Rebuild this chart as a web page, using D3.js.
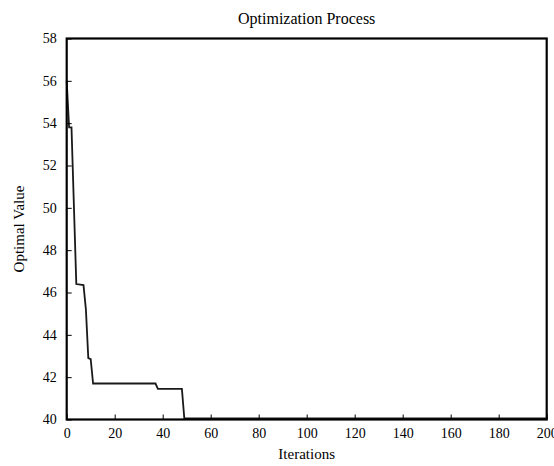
<!DOCTYPE html>
<html>
<head>
<meta charset="utf-8">
<script src="https://cdn.jsdelivr.net/npm/d3@7"></script>
<style>
  html, body { margin: 0; padding: 0; background: #fff; }
  svg { display: block; }
  svg text { font-family: "Liberation Serif", "Times New Roman", serif !important; fill: #000; }
</style>
</head>
<body>
<svg id="chart" width="554" height="466"></svg>
<script>
const titleText = "Optimization Process";
const xLabel = "Iterations";
const yLabel = "Optimal Value";
const iterations = [0, 1, 2, 4, 7, 8, 9, 10, 11, 37, 38, 48, 49, 200];
const values =     [56.0, 53.8, 53.8, 46.4, 46.35, 45.2, 42.9, 42.85, 41.7, 41.7, 41.45, 41.45, 40.05, 40.05];
const xTicks = [0, 20, 40, 60, 80, 100, 120, 140, 160, 180, 200];
const yTicks = [40, 42, 44, 46, 48, 50, 52, 54, 56, 58];

const serif = '"Liberation Serif", "Times New Roman", serif';
const svg = d3.select("#chart");
const m = { left: 66.7, right: 546.7, top: 38.5, bottom: 419.5 };

const x = d3.scaleLinear().domain([0, 200]).range([m.left, m.right]);
const y = d3.scaleLinear().domain([40, 58]).range([m.bottom, m.top]);

// data line
const line = d3.line().x((d, i) => x(iterations[i])).y((d, i) => y(values[i]));
svg.append("path")
  .datum(values)
  .attr("d", line)
  .attr("fill", "none")
  .attr("stroke", "#1a1a1a")
  .attr("stroke-width", 1.8)
  .attr("stroke-linejoin", "miter");

// axes with inward ticks
const xAxis = d3.axisBottom(x).tickValues(xTicks).tickSize(-5).tickPadding(9).tickFormat(d3.format("d"));
const gx = svg.append("g").attr("transform", `translate(0,${m.bottom})`).call(xAxis)
  .attr("font-family", null);
gx.select(".domain").remove();
gx.selectAll(".tick line").attr("stroke", "#000").attr("stroke-width", 1);
gx.selectAll(".tick text").style("font-size", "14px").style("font-family", serif);

const yAxis = d3.axisLeft(y).tickValues(yTicks).tickSize(-5).tickPadding(10).tickFormat(d3.format("d"));
const gy = svg.append("g").attr("transform", `translate(${m.left},0)`).call(yAxis)
  .attr("font-family", null);
gy.select(".domain").remove();
gy.selectAll(".tick line").attr("stroke", "#000").attr("stroke-width", 1);
gy.selectAll(".tick text").style("font-size", "14px").style("font-family", serif);

// frame
svg.append("rect")
  .attr("x", m.left).attr("y", m.top)
  .attr("width", m.right - m.left).attr("height", m.bottom - m.top)
  .attr("fill", "none").attr("stroke", "#000").attr("stroke-width", 2.2);

// title
svg.append("text")
  .attr("x", (m.left + m.right) / 2).attr("y", 24)
  .attr("text-anchor", "middle").style("font-size", "16px").style("font-family", serif)
  .text(titleText);

svg.append("text")
  .attr("x", (m.left + m.right) / 2).attr("y", 459)
  .attr("text-anchor", "middle").style("font-size", "15px").style("font-family", serif)
  .text(xLabel);

svg.append("text")
  .attr("transform", `translate(24,${(m.top + m.bottom) / 2}) rotate(-90)`)
  .attr("text-anchor", "middle").style("font-size", "15px").style("font-family", serif)
  .text(yLabel);
</script>
</body>
</html>
